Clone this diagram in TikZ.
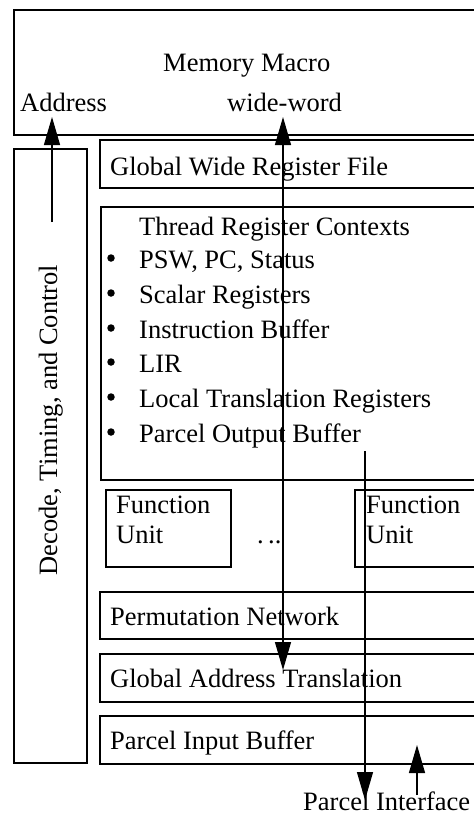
\documentclass[tikz,border=0pt]{standalone}
\usepackage{fontspec}
\setmainfont{Liberation Serif}
\usetikzlibrary{arrows.meta}
\begin{document}
\begin{tikzpicture}[x=1pt,y=-1pt,
  boxline/.style={draw,line width=1.2pt},
  lbl/.style={inner sep=0pt,anchor=base west,font=\fontsize{26.5}{30}\selectfont},
  bul/.style={inner sep=0pt,anchor=base,font=\fontsize{26.5}{30}\selectfont},
  dotb/.style={circle,fill=black,inner sep=0pt,minimum size=7.5pt},
  arr/.style={line width=1.2pt,-{Triangle[length=28pt,width=16pt]}},
  darr/.style={line width=1.2pt,{Triangle[length=28pt,width=16pt]}-{Triangle[length=28pt,width=16pt]}}]
\useasboundingbox (0,0) rectangle (474,815);
\clip (0,0) rectangle (474,815);
\fill[white] (0,0) rectangle (474,815);
% boxes
\draw[boxline] (14,10) rectangle (480,135);
\draw[boxline] (14,149) rectangle (87,763);
\draw[boxline] (100,140) rectangle (480,188);
\draw[boxline] (101,207) rectangle (480,480);
\draw[boxline] (106,490) rectangle (231,567);
\draw[boxline] (355,490) rectangle (480,567);
\draw[boxline] (100,592) rectangle (480,639);
\draw[boxline] (100,654) rectangle (480,702);
\draw[boxline] (100,716) rectangle (480,764);
% texts
\node[lbl] (mm) at (163,71) {Memory Macro};
\node[lbl] (addr) at (20,111) {Address};
\node[lbl] (ww) at (227,111) {wide-word};
\node[lbl] (gw) at (110,175) {Global Wide Register File};
\node[lbl] (trt) at (139,235) {Thread Register Contexts};
\node[dotb] (b1) at (111,258) {};
\node[dotb] (b2) at (111,293) {};
\node[dotb] (b3) at (111,328) {};
\node[dotb] (b4) at (111,362) {};
\node[dotb] (b5) at (111,397) {};
\node[dotb] (b6) at (111,432) {};
\node[lbl] (t1) at (139,268) {PSW, PC, Status};
\node[lbl] (t2) at (139,303) {Scalar Registers};
\node[lbl] (t3) at (139,338) {Instruction Buffer};
\node[lbl] (t4) at (139,372) {LIR};
\node[lbl] (t5) at (139,407) {Local Translation Registers};
\node[lbl] (t6) at (139,442) {Parcel Output Buffer};
\node[lbl] (fa1) at (116,513) {Function};
\node[lbl] (fa2) at (116,543) {Unit};
\node[lbl] (fb1) at (366,513) {Function};
\node[lbl] (fb2) at (366,543) {Unit};
\node[lbl] (dots) at (257,543) {.\,..};
\node[lbl] (pn) at (110,625) {Permutation Network};
\node[lbl] (gat) at (110,687) {Global Address Translation};
\node[lbl] (pib) at (110,749) {Parcel Input Buffer};
\node[lbl] (pif) at (303,810) {Parcel Interface};
\node[bul,rotate=90] (dec) at (57,420) {Decode, Timing, and Control};
% connectors
\coordinate (a1) at (52,222);
\coordinate (a2) at (52,117);
\coordinate (w1) at (283,117);
\coordinate (w2) at (283,670);
\coordinate (p1) at (365,451);
\coordinate (p2) at (365,800);
\coordinate (q1) at (417,795);
\coordinate (q2) at (417,745);
\draw[arr] (a1) -- (a2);
\draw[darr] (w1) -- (w2);
\draw[arr] (p1) -- (p2);
\draw[arr] (q1) -- (q2);
\end{tikzpicture}
\end{document}
